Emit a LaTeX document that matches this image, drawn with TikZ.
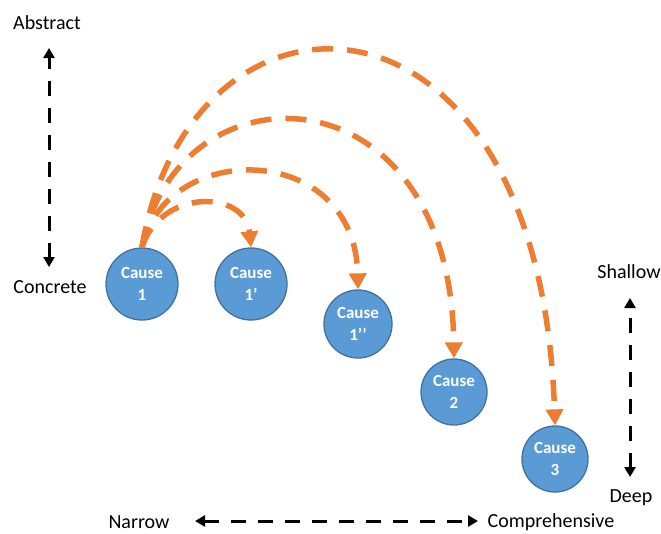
\documentclass[tikz,border=0pt]{standalone}
\usepackage{fontspec}
\setmainfont{Carlito}
\usetikzlibrary{arrows.meta}
\definecolor{cblue}{HTML}{5B9BD5}
\definecolor{cborder}{HTML}{41719C}
\definecolor{corange}{HTML}{ED7D31}
\tikzset{
  cause/.style={circle, fill=cblue, draw=cborder, line width=1.3pt, inner sep=0pt,
    text=white, font=\fontsize{17}{22}\selectfont\bfseries, align=center},
  orarrow/.style={draw=corange, line width=5.5pt, dash pattern=on 21pt off 14pt,
    -{Triangle[width=17pt,length=16pt]}},
  axis/.style={draw=black, line width=3pt, dash pattern=on 15pt off 12pt,
    {Triangle[width=11pt,length=10pt]}-{Triangle[width=11pt,length=10pt]}},
  lbl/.style={font=\fontsize{20}{24}\selectfont, inner sep=0pt}
}
\begin{document}
\begin{tikzpicture}[x=1pt,y=-1pt]
\useasboundingbox (0,0) rectangle (661,533);
% causes
\node[cause, minimum size=72pt] (c1) at (142,284) {Cause\\1};
\node[cause, minimum size=72pt] (c1p) at (251,284) {Cause\\1’};
\node[cause, minimum size=68pt] (c1pp) at (358,324) {Cause\\1’’};
\node[cause, minimum size=66pt] (c2) at (454,392) {Cause\\2};
\node[cause, minimum size=66pt] (c3) at (555,459) {Cause\\3};
% orange arcs
\draw[orarrow] (c1.north) .. controls (160,189) and (245,189) .. (c1p.north);
\draw[orarrow] (c1.north) .. controls (165,140) and (355,140) .. (c1pp.north);
\draw[orarrow] (c1.north) .. controls (175,62) and (450,62) .. (c2.north);
\draw[orarrow] (c1.north) .. controls (190,-40) and (540,-40) .. (c3.north);
% axis labels
\node[lbl] (abs) at (47,23) {Abstract};
\node[lbl] (con) at (50,287) {Concrete};
\node[lbl] (sha) at (629,272) {Shallow};
\node[lbl] (dee) at (631,498) {Deep};
\node[lbl] (nar) at (139,522) {Narrow};
\node[lbl] (com) at (551,522) {Comprehensive};
% axes
\coordinate (aT) at (49,48);
\coordinate (aB) at (49,267);
\coordinate (sT) at (630,298);
\coordinate (sB) at (630,477);
\coordinate (nL) at (195,521);
\coordinate (nR) at (478,521);
\draw[axis] (aB) -- (aT);
\draw[axis] (sB) -- (sT);
\draw[axis] (nL) -- (nR);
\end{tikzpicture}
\end{document}
